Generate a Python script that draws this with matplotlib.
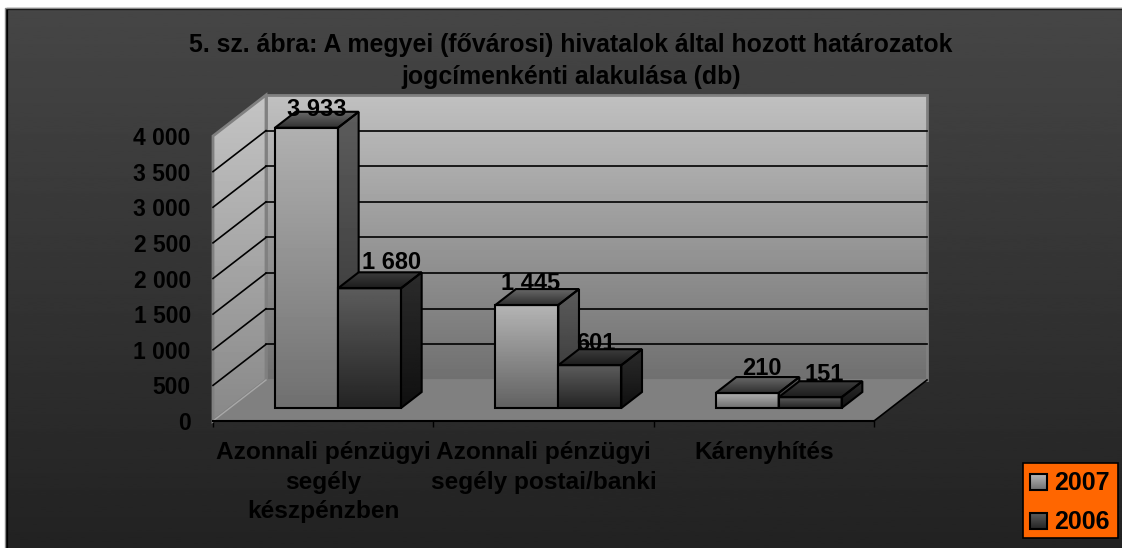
import matplotlib
matplotlib.use("Agg")
import matplotlib.pyplot as plt
import numpy as np
from matplotlib.patches import Polygon, Rectangle

plt.rcParams["font.family"] = ["Liberation Sans", "DejaVu Sans"]
plt.rcParams["font.weight"] = "bold"

title = "5. sz. ábra: A megyei (fővárosi) hivatalok által hozott határozatok\njogcímenkénti alakulása (db)"
categories = ["Azonnali pénzügyi\nsegély\nkészpénzben", "Azonnali pénzügyi\nsegély postai/banki", "Kárenyhítés"]
series_names = ["2007", "2006"]
values_2007 = [3933, 1445, 210]
values_2006 = [1680, 601, 151]
value_labels_2007 = ["3 933", "1 445", "210"]
value_labels_2006 = ["1 680", "601", "151"]
y_ticks = [0, 500, 1000, 1500, 2000, 2500, 3000, 3500, 4000]
y_tick_labels = ["0", "500", "1 000", "1 500", "2 000", "2 500", "3 000", "3 500", "4 000"]

W, H = 1122, 548
# fake 3D: depth 1 moves a point 53 px right and 41 px up
DEPTH_X = 53 / 220.33
DEPTH_Y = 41 / 0.07125
BAR_D0, BAR_D1 = 0.317, 0.707
BAR_W = 0.286
BAR_START = 0.205

fig = plt.figure(figsize=(W / 100, H / 100), dpi=100, facecolor="white")

# background and frame, in pixels
bg = fig.add_axes([0, 0, 1, 1], zorder=0)
bg.set_xlim(0, W)
bg.set_ylim(H, 0)
bg.axis("off")
grad = np.linspace(0, 1, 256).reshape(-1, 1)
bg_cols = (0x46 + (0x22 - 0x46) * grad) / 255
bg.imshow(bg_cols, cmap="gray", vmin=0, vmax=1, extent=[7, W, H, 9], aspect="auto")
bg.plot([7, 7, W], [H, 9, 9], color="black", lw=1.6)
bg.plot([5.5, 5.5, W], [H, 7.6, 7.6], color="#8a8a8a", lw=1)
bg.set_xlim(0, W)
bg.set_ylim(H, 0)

ax = fig.add_axes([213 / W, 1 - 421 / H, 661 / W, 285 / H], zorder=1)
ax.patch.set_visible(False)


def pt(x, y, d=0.0):
    return (x + d * DEPTH_X, y + d * DEPTH_Y)


def shade(target, corners, top, bottom, z, edge="black", lw=1.5):
    """Polygon with a vertical grey gradient."""
    xs = [c[0] for c in corners]
    ys = [c[1] for c in corners]
    g = np.linspace(top, bottom, 64).reshape(-1, 1) / 255
    y_lo, y_hi = min(ys), max(ys)
    if target.yaxis_inverted():
        y_lo, y_hi = y_hi, y_lo
    im = target.imshow(g, cmap="gray", vmin=0, vmax=1, aspect="auto", zorder=z,
                       extent=[min(xs), max(xs), y_lo, y_hi], origin="upper",
                       interpolation="bilinear")
    im.set_clip_box(fig.bbox)
    im.set_clip_path(Polygon(corners, closed=True, transform=target.transData))
    target.add_patch(Polygon(corners, closed=True, fill=False, edgecolor=edge, lw=lw,
                             zorder=z + 0.1, joinstyle="miter", clip_on=False))


def bar3d(x0, x1, v, front, side, topc, z):
    d0, d1 = BAR_D0, BAR_D1
    shade(ax, [pt(x0, 0, d0), pt(x1, 0, d0), pt(x1, v, d0), pt(x0, v, d0)], front[0], front[1], z)
    shade(ax, [pt(x1, 0, d0), pt(x1, 0, d1), pt(x1, v, d1), pt(x1, v, d0)], side[0], side[1], z)
    shade(ax, [pt(x0, v, d0), pt(x1, v, d0), pt(x1, v, d1), pt(x0, v, d1)], topc[0], topc[1], z)


ymax = y_ticks[-1]
xmax = len(categories)
WALL = "#808080"

# walls and floor
shade(ax, [pt(0, 0, 1), pt(xmax, 0, 1), pt(xmax, ymax, 1), pt(0, ymax, 1)], 0xc0, 0x70, 1, edge=WALL, lw=2)
shade(ax, [pt(0, 0, 0), pt(0, 0, 1), pt(0, ymax, 1), pt(0, ymax, 0)], 0xc4, 0x88, 1.5, edge=WALL, lw=2)
ax.add_patch(Polygon([pt(0, 0, 0), pt(xmax, 0, 0), pt(xmax, 0, 1), pt(0, 0, 1)], closed=True,
                     facecolor="#808080", edgecolor="none", zorder=2, clip_on=False))
ax.plot(*zip(pt(0, 0, 0), pt(0, 0, 1)), color="#a8a8a8", lw=1, zorder=2.1, clip_on=False)
ax.plot(*zip(pt(xmax, 0, 0), pt(xmax, 0, 1)), color="black", lw=1.2, zorder=2.1, clip_on=False)

for v in y_ticks[1:-1]:
    ax.plot(*zip(pt(0, v, 1), pt(xmax, v, 1)), color="black", lw=1.2, zorder=1.8, clip_on=False)
    ax.plot(*zip(pt(0, v, 0), pt(0, v, 1)), color="black", lw=1.2, zorder=1.8, clip_on=False)

# bars, left to right so 2006 covers the side of 2007
front_2007 = [(0xb0, 0x70), (0xb4, 0x62), (0xb0, 0x70)]
for i in range(len(categories)):
    left = i + BAR_START
    z = 3 + i
    bar3d(left, left + BAR_W, values_2007[i], front_2007[i], (0x5c, 0x30), (0x68, 0x30), z)
    bar3d(left + BAR_W, left + 2 * BAR_W, values_2006[i], (0x5c, 0x24), (0x2c, 0x10), (0x3c, 0x1e), z + 0.5)

# value labels sit a little loose above the bars, nudged by hand (px)
nudge_2007 = [(10, 18), (4, 22), (15, 25)]
nudge_2006 = [(22, 26), (6, 22), (14, 23)]
for i in range(len(categories)):
    left = i + BAR_START
    for vals, labels, nudge, shift in ((values_2007, value_labels_2007, nudge_2007, 0),
                                       (values_2006, value_labels_2006, nudge_2006, BAR_W)):
        ax.annotate(labels[i], xy=pt(left + shift + BAR_W / 2, vals[i], BAR_D0),
                    xytext=(nudge[i][0] * 0.72, nudge[i][1] * 0.72), textcoords="offset points",
                    ha="center", va="center", fontsize=17, color="black", zorder=20, annotation_clip=False)

ax.set_xlim(0, xmax)
ax.set_ylim(0, ymax)
for name in ("top", "left", "right"):
    ax.spines[name].set_visible(False)
ax.spines["bottom"].set_linewidth(1.5)
ax.spines["bottom"].set_zorder(10)

ax.set_yticks(y_ticks)
ax.set_yticklabels(y_tick_labels, fontsize=16.5, color="black")
ax.tick_params(axis="y", length=0, pad=16)
ax.set_xticks(range(xmax + 1))
ax.set_xticklabels([])
ax.tick_params(axis="x", which="major", length=4, width=1, color="black")
ax.set_xticks([i + 0.5 for i in range(xmax)], minor=True)
ax.set_xticklabels(categories, minor=True, fontsize=17.6, color="black", linespacing=1.36)
ax.tick_params(axis="x", which="minor", length=0, pad=14.5)

# overlay for title and legend, in pixels
top = fig.add_axes([0, 0, 1, 1], zorder=2)
top.set_xlim(0, W)
top.set_ylim(H, 0)
top.axis("off")
top.text(571, 61, title, ha="center", va="center", fontsize=17.95, color="black", linespacing=1.4)
top.add_patch(Rectangle((1023, 463), 95, 75, facecolor="#ff6600", edgecolor="black", lw=1.2, zorder=5))
legend_swatches = [(0xb8, 0x70), (0x5c, 0x24)]
for name, sw, cy in zip(series_names, legend_swatches, (482, 521)):
    shade(top, [(1030, cy - 8), (1047, cy - 8), (1047, cy + 8), (1030, cy + 8)], sw[0], sw[1], 6)
    top.text(1054, cy + 1, name, ha="left", va="center", fontsize=18, color="black", zorder=7)
top.set_xlim(0, W)
top.set_ylim(H, 0)

ax.set_xlim(0, xmax)
ax.set_ylim(0, ymax)
fig.savefig("out.png", dpi=100, facecolor="white")
